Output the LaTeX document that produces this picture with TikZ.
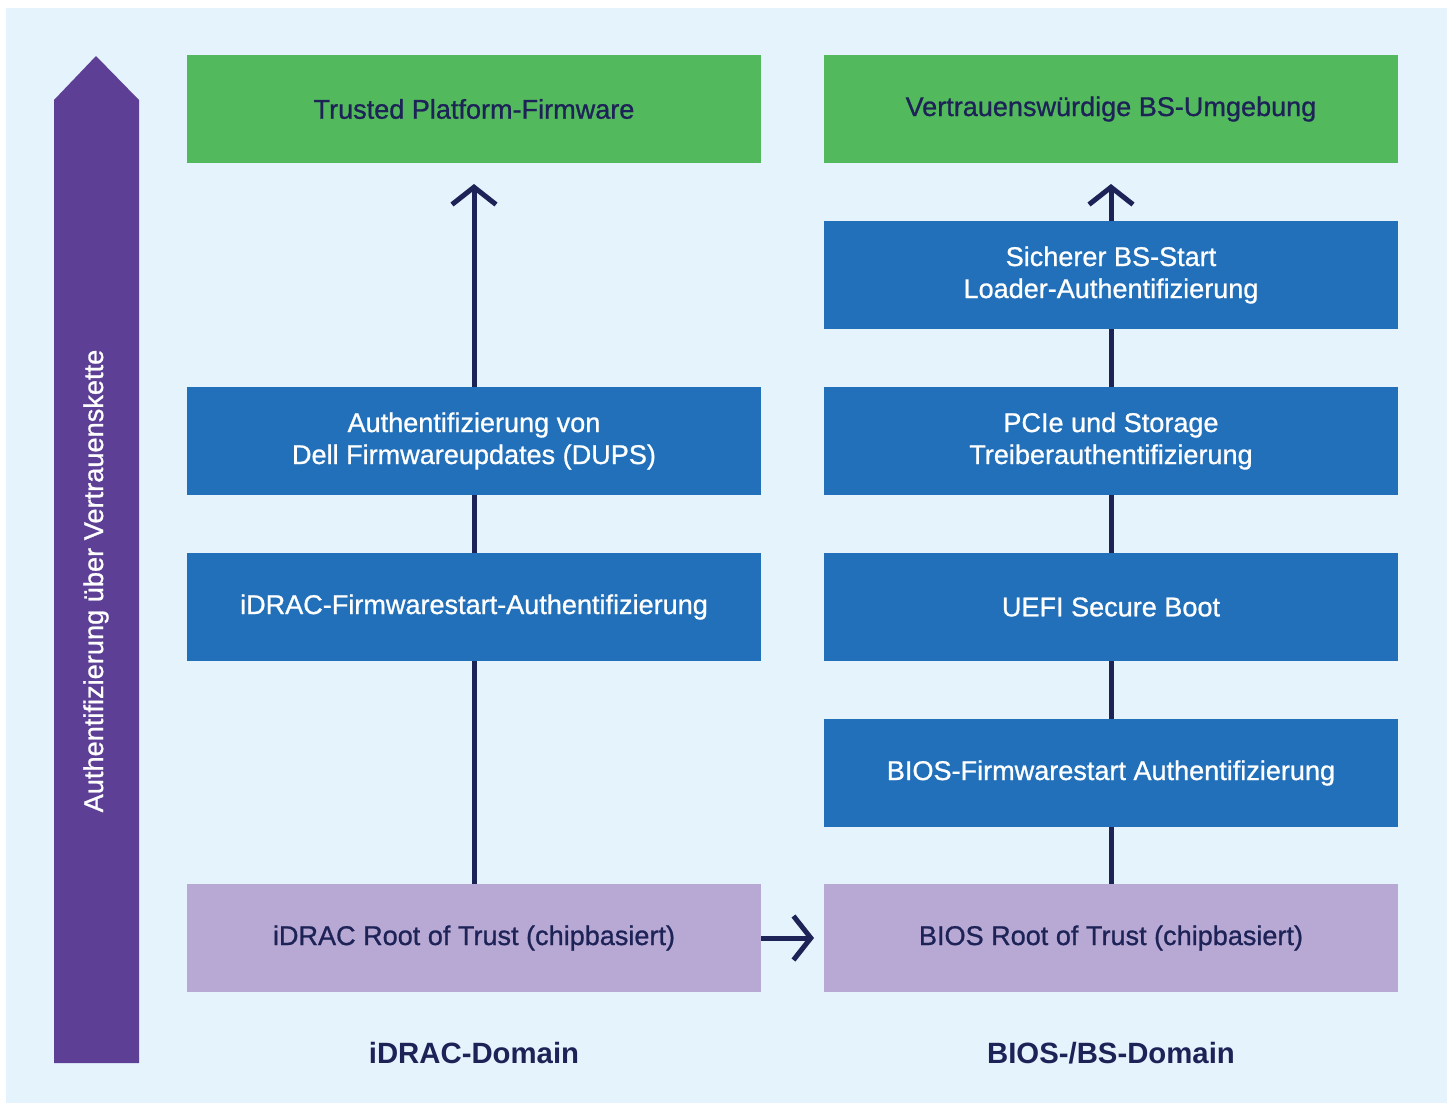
\documentclass[tikz,border=0pt]{standalone}
\usepackage{fontspec}
\setmainfont{Liberation Sans}[UprightFeatures={FakeBold=0.9}]
\usepackage{tikz}
\usetikzlibrary{arrows.meta}

\definecolor{bgblue}{HTML}{E5F4FC}
\definecolor{chainpurple}{HTML}{5E3F96}
\definecolor{boxgreen}{HTML}{52BA5C}
\definecolor{boxblue}{HTML}{2170B9}
\definecolor{rootlav}{HTML}{B7A9D3}
\definecolor{navy}{HTML}{1D2257}

\begin{document}
\begin{tikzpicture}[x=0.75pt, y=-0.75pt,
    box/.style={minimum width=430.5pt, minimum height=81pt, inner sep=0pt, outer sep=0pt,
      align=center, font=\fontsize{20.3}{24}\selectfont},
    goal/.style={box, fill=boxgreen, text=navy},
    stage/.style={box, fill=boxblue, text=white},
    root/.style={box, fill=rootlav, text=navy},
    domainlabel/.style={text=navy, font=\fontsize{22}{26}\selectfont\bfseries},
    chain/.style={draw=navy, line width=3.75pt, -{Straight Barb[length=13pt, width=33pt, line width=3.75pt]}},
    link/.style={draw=navy, line width=3.75pt}]
        \useasboundingbox (0,0) rectangle (1447,1103);
        \fill[bgblue] (6,8) rectangle (1447,1103);
        % Chain arrow
        \fill[chainpurple] (54,1063) -- (54,100) -- (96,56) -- (139,100) -- (139,1063) -- cycle;
        \node[rotate=90, text=white, font=\fontsize{20.4}{24}\selectfont] (chainlabel) at (96,581) {Authentifizierung über Vertrauenskette};
        % Nodes
        \node[goal] (tpf) at (474,109) {Trusted Platform-Firmware};
        \node[stage] (dups) at (474,441) {Authentifizierung von\\Dell Firmwareupdates (DUPS)};
        \node[stage] (idracboot) at (474,607) {iDRAC-Firmwarestart-Authentifizierung};
        \node[root] (idracroot) at (474,938) {iDRAC Root of Trust (chipbasiert)};
        \node[goal] (osenv) at (1111,109) {Vertrauenswürdige BS-Umgebung};
        \node[stage] (loader) at (1111,275) {Sicherer BS-Start\\Loader-Authentifizierung};
        \node[stage] (pcie) at (1111,441) {PCIe und Storage\\Treiberauthentifizierung};
        \node[stage] (uefi) at (1111,607) {UEFI Secure Boot};
        \node[stage] (biosboot) at (1111,773) {BIOS-Firmwarestart Authentifizierung};
        \node[root] (biosroot) at (1111,938) {BIOS Root of Trust (chipbasiert)};
        \node[domainlabel] (idracdom) at (474,1053) {iDRAC-Domain};
        \node[domainlabel] (biosdom) at (1111,1053) {BIOS-/BS-Domain};
        \coordinate (idractip) at (474,184);
        \coordinate (biostip) at (1111,184);
        \coordinate (handover) at (814,938);
        % Edges
        \draw[link] (idracroot) -- (idracboot);
        \draw[link] (idracboot) -- (dups);
        \draw[chain] (dups) -- (idractip);
        \draw[link] (biosroot) -- (biosboot);
        \draw[link] (biosboot) -- (uefi);
        \draw[link] (uefi) -- (pcie);
        \draw[link] (pcie) -- (loader);
        \draw[chain] (loader) -- (biostip);
        \draw[chain] (idracroot) -- (handover);
    \end{tikzpicture}
\end{document}
